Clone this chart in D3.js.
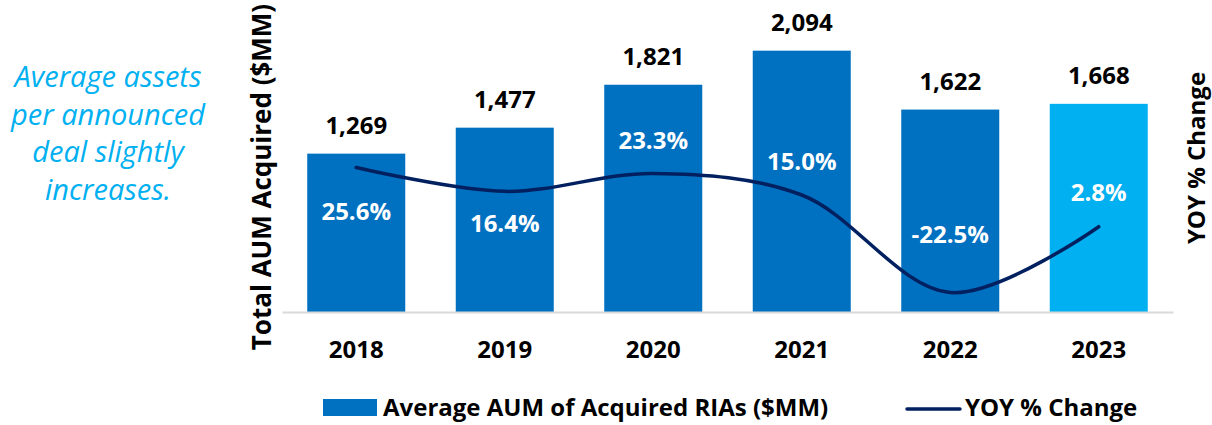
<!DOCTYPE html>
<html>
<head>
<meta charset="utf-8">
<script src="https://cdn.jsdelivr.net/npm/d3@7"></script>
<style>
  body { margin: 0; background: #fff; }
  svg text { font-family: "Open Sans", sans-serif; }
</style>
</head>
<body>
<div id="chart-area"></div>
<script>
// data
const years = ["2018", "2019", "2020", "2021", "2022", "2023"];
const avg_aum = [1269, 1477, 1821, 2094, 1622, 1668];
const yoy_change = [25.6, 16.4, 23.3, 15.0, -22.5, 2.8];
const note_lines = ["Average assets", "per announced", "deal slightly", "increases."];

// label nudges (px) for the % labels, relative to the line point
const pct_label_dy = [44, 32, -33, -34, -58, -34];

const width = 1212, height = 425;
const baseline = 312;

const svg = d3.select("#chart-area")
    .append("svg")
        .attr("width", width)
        .attr("height", height);

// Scales
const x = d3.scaleBand()
    .domain(years)
    .range([282, 1173])
    .paddingInner(0.34)
    .paddingOuter(0.17);

const y = d3.scaleLinear()
    .domain([0, 2500])
    .range([baseline, 0]);

const y2 = d3.scaleLinear()
    .domain([-30, 90])
    .range([baseline, 0]);

// bars
svg.selectAll("rect.bar")
    .data(years)
    .enter().append("rect")
        .attr("class", "bar")
        .attr("x", d => x(d))
        .attr("width", x.bandwidth())
        .attr("y", (d, i) => y(avg_aum[i]))
        .attr("height", (d, i) => baseline - y(avg_aum[i]))
        .attr("fill", (d, i) => i == years.length - 1 ? "#00B0F0" : "#0070C0");

// category axis
const xAxis = svg.append("g")
    .attr("transform", "translate(0," + baseline + ")")
    .call(d3.axisBottom(x).tickSize(0));
xAxis.select(".domain")
    .attr("stroke", "#d9d9d9")
    .attr("stroke-width", 2);
xAxis.selectAll(".tick text")
    .attr("y", 46)
    .attr("dy", 0)
    .attr("font-size", "24px")
    .attr("font-weight", "bold")
    .attr("fill", "#000")
    .style("font-family", "'Open Sans', sans-serif");

// value labels above bars
svg.selectAll("text.val")
    .data(years)
    .enter().append("text")
        .attr("class", "val")
        .attr("x", d => x(d) + x.bandwidth() / 2)
        .attr("y", (d, i) => y(avg_aum[i]) - 20)
        .attr("text-anchor", "middle")
        .attr("font-size", "24px")
        .attr("font-weight", "bold")
        .attr("fill", "#000")
        .text((d, i) => d3.format(",")(avg_aum[i]));

// YOY line
const line = d3.line()
    .x((d, i) => x(years[i]) + x.bandwidth() / 2)
    .y(d => y2(d))
    .curve(d3.curveCatmullRom.alpha(0.5));

svg.append("path")
    .datum(yoy_change)
    .attr("d", line)
    .attr("fill", "none")
    .attr("stroke", "#002060")
    .attr("stroke-width", 3.5)
    .attr("stroke-linecap", "round");

// % labels
svg.selectAll("text.pct")
    .data(yoy_change)
    .enter().append("text")
        .attr("class", "pct")
        .attr("x", (d, i) => x(years[i]) + x.bandwidth() / 2)
        .attr("y", (d, i) => y2(d) + pct_label_dy[i])
        .attr("dy", "0.36em")
        .attr("text-anchor", "middle")
        .attr("font-size", "24px")
        .attr("font-weight", "bold")
        .attr("fill", "#fff")
        .text(d => d.toFixed(1) + "%");

// axis titles
svg.append("text")
    .attr("transform", "translate(271,177) rotate(-90)")
    .attr("text-anchor", "middle")
    .attr("font-size", "26px")
    .attr("font-weight", "bold")
    .attr("fill", "#000")
    .text("Total AUM Acquired ($MM)");

svg.append("text")
    .attr("transform", "translate(1205,158) rotate(-90)")
    .attr("text-anchor", "middle")
    .attr("font-size", "24px")
    .attr("font-weight", "bold")
    .attr("fill", "#000")
    .text("YOY % Change");

// side note
svg.append("g").selectAll("text")
    .data(note_lines)
    .enter().append("text")
        .attr("x", 108)
        .attr("y", (d, i) => 87 + i * 37.7)
        .attr("text-anchor", "middle")
        .attr("font-size", "29px")
        .attr("font-style", "italic")
        .attr("fill", "#00B0F0")
        .text(d => d);

// legend
const legend = svg.append("g");
legend.append("rect")
    .attr("x", 323).attr("y", 399)
    .attr("width", 54).attr("height", 17)
    .attr("fill", "#0070C0");
legend.append("text")
    .attr("x", 383).attr("y", 416)
    .attr("font-size", "24px")
    .attr("font-weight", "bold")
    .attr("fill", "#000")
    .text("Average AUM of Acquired RIAs ($MM)");
legend.append("line")
    .attr("x1", 907).attr("x2", 960)
    .attr("y1", 409).attr("y2", 409)
    .attr("stroke", "#002060")
    .attr("stroke-width", 3.5)
    .attr("stroke-linecap", "round");
legend.append("text")
    .attr("x", 965).attr("y", 416)
    .attr("font-size", "24px")
    .attr("font-weight", "bold")
    .attr("fill", "#000")
    .text("YOY % Change");
</script>
</body>
</html>
